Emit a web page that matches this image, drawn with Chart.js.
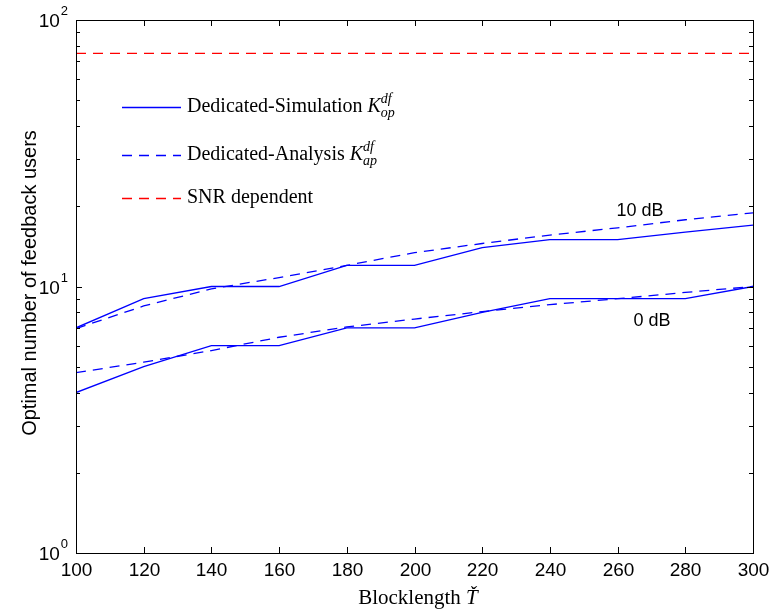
<!DOCTYPE html>
<html>
<head>
<meta charset="utf-8">
<script src="https://cdn.jsdelivr.net/npm/chart.js@4"></script>
<style>
  html, body { margin: 0; padding: 0; background: #fff; }
  canvas { display: block; }
</style>
</head>
<body>
<canvas id="chart" width="771" height="613"></canvas>
<script>
// blocklength values on the x axis
const blocklengths = [100, 120, 140, 160, 180, 200, 220, 240, 260, 280, 300];

// optimal number of feedback users
const simulation0dB  = [4, 5, 6, 6, 7, 7, 8, 9, 9, 9, 10];
const simulation10dB = [7, 9, 10, 10, 12, 12, 14, 15, 15, 16, 17];
const analysis0dB    = [4.75, 5.2, 5.75, 6.45, 7.05, 7.55, 8.05, 8.55, 9.0, 9.5, 10.0];
const analysis10dB   = [6.95, 8.45, 9.8, 10.8, 12.0, 13.4, 14.5, 15.6, 16.6, 17.8, 18.9];
const snrDependent   = [75, 75, 75, 75, 75, 75, 75, 75, 75, 75, 75];

// tick values
const xTicks = [100, 120, 140, 160, 180, 200, 220, 240, 260, 280, 300];
const yMajorTicks = [1, 10, 100];
const yMajorExp = ['0', '1', '2'];

const BLUE = '#0000ff';
const RED = '#ff0000';
const DASH = [10, 7];
const SANS = '"Liberation Sans", Arial, sans-serif';
const SERIF = '"Liberation Serif", "Times New Roman", serif';

const toPoints = (ys) => blocklengths.map((x, i) => ({ x, y: ys[i] }));

const lineSet = (label, ys, color, dashed) => ({
    label,
    data: toPoints(ys),
    borderColor: color,
    borderWidth: 1.3,
    borderDash: dashed ? DASH : [],
    pointRadius: 0,
    tension: 0,
    fill: false
});

/* ---------- axes box, ticks, labels, legend, annotations ---------- */
const decorations = {
    id: 'decorations',
    afterDraw(chart) {
        const { ctx, chartArea: a, scales } = chart;
        const xs = scales.x, ys = scales.y;
        ctx.save();

        // box
        ctx.strokeStyle = '#000';
        ctx.lineWidth = 1;
        ctx.strokeRect(a.left + 0.5, a.top + 0.5, a.right - a.left, a.bottom - a.top);

        // x ticks (inward, top and bottom) + labels
        ctx.fillStyle = '#000';
        ctx.font = '19px ' + SANS;
        ctx.textAlign = 'center';
        ctx.textBaseline = 'middle';
        xTicks.forEach((t) => {
            const px = Math.round(xs.getPixelForValue(t)) + 0.5;
            ctx.beginPath();
            ctx.moveTo(px, a.bottom); ctx.lineTo(px, a.bottom - 6);
            ctx.moveTo(px, a.top); ctx.lineTo(px, a.top + 6);
            ctx.stroke();
            ctx.fillText(String(t), px, a.bottom + 18);
        });

        // y ticks: majors and minors on the log axis
        for (let dec = 1; dec < 100; dec *= 10) {
            for (let m = 2; m <= 9; m++) {
                const py = Math.round(ys.getPixelForValue(m * dec)) + 0.5;
                ctx.beginPath();
                ctx.moveTo(a.left, py); ctx.lineTo(a.left + 4, py);
                ctx.moveTo(a.right, py); ctx.lineTo(a.right - 4, py);
                ctx.stroke();
            }
        }
        yMajorTicks.forEach((v, i) => {
            const py = Math.round(ys.getPixelForValue(v)) + 0.5;
            ctx.beginPath();
            ctx.moveTo(a.left, py); ctx.lineTo(a.left + 6, py);
            ctx.moveTo(a.right, py); ctx.lineTo(a.right - 6, py);
            ctx.stroke();
            // "10" with superscript exponent
            ctx.textAlign = 'right';
            ctx.font = '13px ' + SANS;
            const expW = ctx.measureText(yMajorExp[i]).width;
            ctx.fillText(yMajorExp[i], a.left - 8, py - 9);
            ctx.font = '19px ' + SANS;
            ctx.fillText('10', a.left - 9 - expW, py + 1);
        });

        // axis titles
        ctx.textAlign = 'center';
        ctx.font = '20px ' + SANS;
        ctx.save();
        ctx.translate(30, 283);
        ctx.rotate(-Math.PI / 2);
        ctx.fillText('Optimal number of feedback users', 0, 0);
        ctx.restore();

        ctx.font = '21px ' + SERIF;
        const xt = 'Blocklength ';
        const xtW = ctx.measureText(xt).width;
        ctx.font = 'italic 21px ' + SERIF;
        const tW = ctx.measureText('Ť').width;
        const xc = 418 - (xtW + tW) / 2;
        ctx.textAlign = 'left';
        ctx.textBaseline = 'alphabetic';
        ctx.font = '21px ' + SERIF;
        ctx.fillText(xt, xc, 604);
        ctx.font = 'italic 21px ' + SERIF;
        ctx.fillText('Ť', xc + xtW, 604);
        ctx.textBaseline = 'middle';

        // curve annotations
        ctx.font = '18px ' + SANS;
        ctx.textAlign = 'center';
        ctx.fillText('10 dB', 640, 211);
        ctx.fillText('0 dB', 652, 321);

        // legend
        const rows = [
            { text: 'Dedicated-Simulation ', color: BLUE, dash: [], sup: 'df', sub: 'op', y: 107 },
            { text: 'Dedicated-Analysis ', color: BLUE, dash: DASH, sup: 'df', sub: 'ap', y: 155 },
            { text: 'SNR dependent', color: RED, dash: DASH, y: 198 }
        ];
        rows.forEach((r) => {
            ctx.strokeStyle = r.color;
            ctx.lineWidth = 1.3;
            ctx.setLineDash(r.dash);
            ctx.beginPath();
            ctx.moveTo(122, r.y + 0.5); ctx.lineTo(181, r.y + 0.5);
            ctx.stroke();
            ctx.setLineDash([]);

            ctx.fillStyle = '#000';
            ctx.textAlign = 'left';
            ctx.textBaseline = 'middle';
            ctx.font = '20px ' + SERIF;
            ctx.fillText(r.text, 187, r.y);
            if (r.sup) {
                let x = 187 + ctx.measureText(r.text).width;
                ctx.font = 'italic 20px ' + SERIF;
                ctx.fillText('K', x, r.y);
                x += ctx.measureText('K').width;
                ctx.font = 'italic 14px ' + SERIF;
                ctx.fillText(r.sup, x, r.y - 8);
                ctx.fillText(r.sub, x, r.y + 6);
            }
        });

        ctx.restore();
    }
};

new Chart(document.getElementById('chart'), {
    type: 'line',
    data: {
        datasets: [
            lineSet('Simulation 0 dB', simulation0dB, BLUE, false),
            lineSet('Simulation 10 dB', simulation10dB, BLUE, false),
            lineSet('Analysis 0 dB', analysis0dB, BLUE, true),
            lineSet('Analysis 10 dB', analysis10dB, BLUE, true),
            lineSet('SNR dependent', snrDependent, RED, true)
        ]
    },
    options: {
        responsive: false,
        animation: false,
        layout: { padding: { left: 76, right: 18, top: 20, bottom: 60 } },
        plugins: { legend: { display: false }, tooltip: { enabled: false } },
        scales: {
            x: { type: 'linear', min: 100, max: 300, display: false },
            y: { type: 'logarithmic', min: 1, max: 100, display: false }
        }
    },
    plugins: [decorations]
});
</script>
</body>
</html>
